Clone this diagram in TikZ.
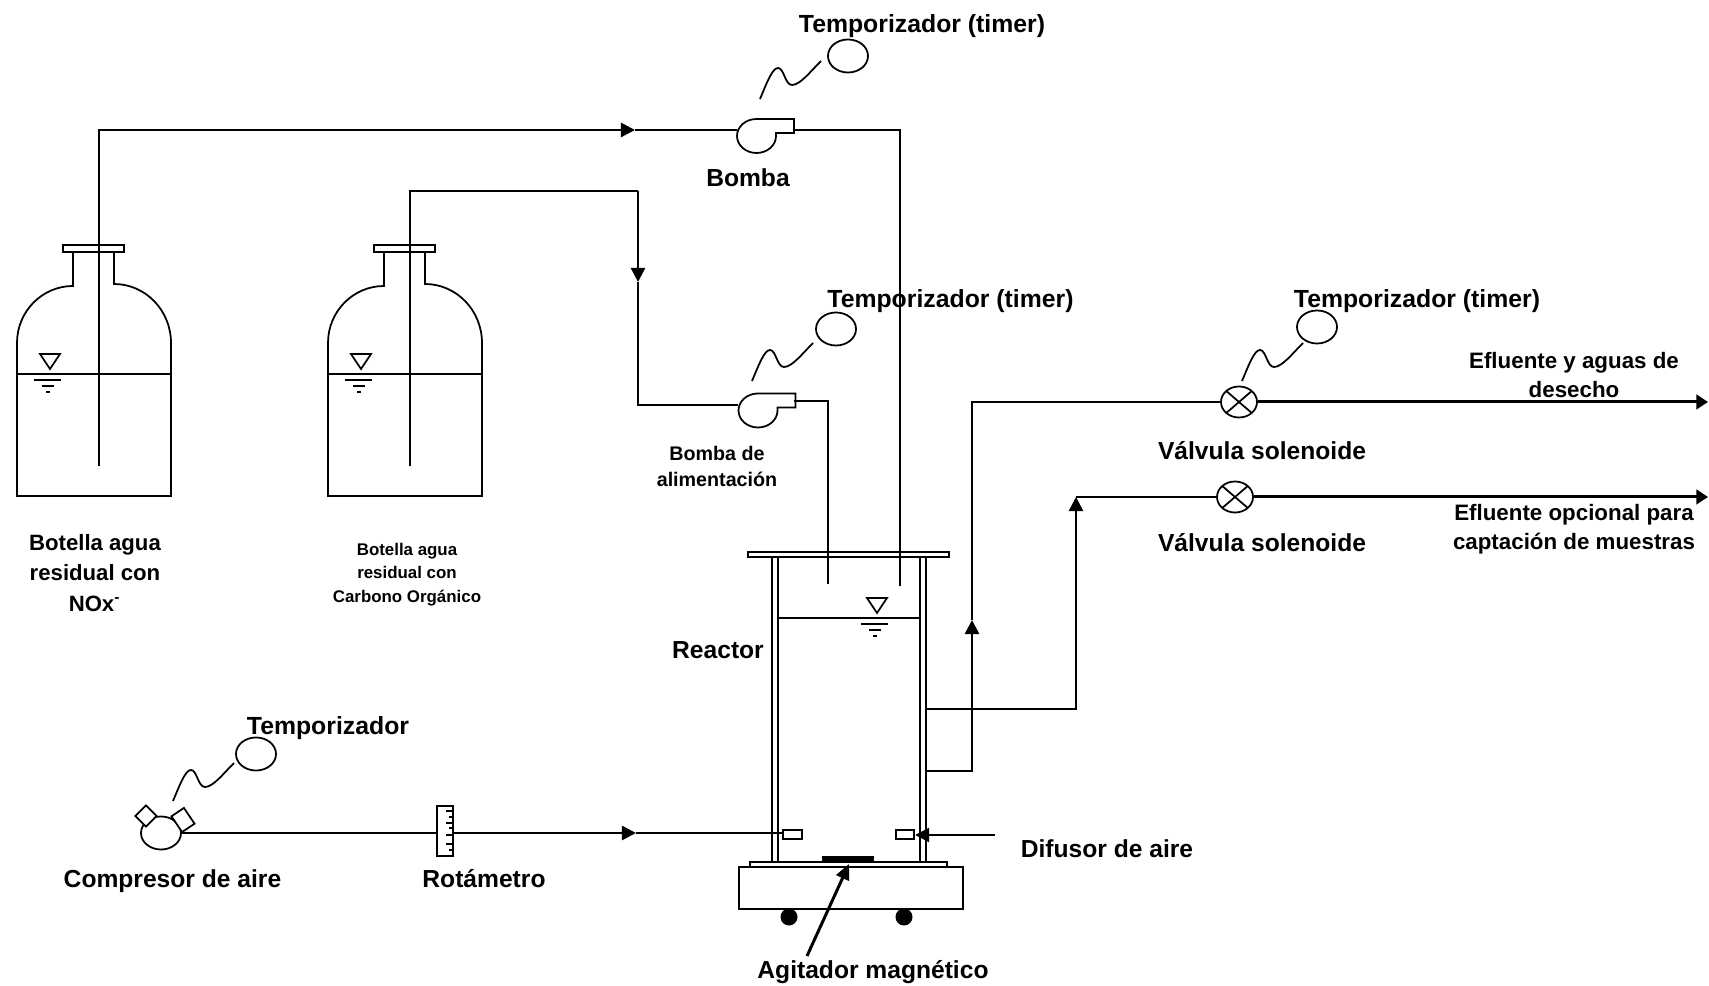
\documentclass[tikz,border=0pt]{standalone}
\usepackage{fontspec}
\usepackage{tikz}
\setmainfont{Liberation Sans}
\usetikzlibrary{shapes.geometric, arrows.meta}

\begin{document}
\begin{tikzpicture}[
  x=0.01cm, y=-0.01cm,
  thickline/.style={line width=0.5pt, black},
  pipe/.style={line width=0.5pt, black},
  flow/.style={line width=0.72pt, black, -{Triangle[length=4pt, width=4pt]}},
  outflow/.style={line width=0.85pt, black, -{Triangle[length=3.3pt, width=4.1pt]}},
  bigtxt/.style={font=\fontsize{7}{8}\selectfont\bfseries, align=center, inner sep=0pt},
  timertxt/.style={font=\fontsize{7.05}{8}\selectfont\bfseries, align=center, inner sep=0pt},
  midtxt/.style={font=\fontsize{6.35}{8.2}\selectfont\bfseries, align=center, inner sep=0pt},
  smalltxt/.style={font=\fontsize{5.6}{7.5}\selectfont\bfseries, align=center, inner sep=0pt},
  tinytxt/.style={font=\fontsize{4.8}{6.6}\selectfont\bfseries, align=center, inner sep=0pt},
  timerbox/.style={ellipse, draw, thickline, fill=white, inner sep=0pt, minimum width=0.40cm, minimum height=0.33cm},
  valvebox/.style={ellipse, draw, thickline, fill=white, inner sep=0pt, minimum width=0.36cm, minimum height=0.31cm,
    path picture={\draw[thickline] (path picture bounding box.north west) -- (path picture bounding box.south east)
      (path picture bounding box.north east) -- (path picture bounding box.south west);}},
  diffbox/.style={rectangle, draw, thickline, fill=white, inner sep=0pt, minimum width=0.185cm, minimum height=0.09cm},
  wheelbox/.style={circle, fill=black, inner sep=0pt, minimum size=0.17cm},
  bottle/.pic={
    \draw[thickline] (56,-244) -- (56,-210) arc[start angle=270, end angle=180, x radius=56, y radius=57]
      -- (0,0) -- (154,0) -- (154,-153) arc[start angle=360, end angle=270, x radius=57, y radius=59] -- (97,-244);
    \draw[thickline] (46,-251) rectangle (107,-244);
    \draw[thickline] (0,-122) -- (154,-122);
  },
  levelmark/.pic={
    \draw[thickline] (-10,-15) -- (10,-15) -- (0,0) -- cycle;
    \draw[thickline] (-16,11) -- (11,11) (-8,17) -- (4,17) (-4,23) -- (0,23);
  },
  pump/.pic={
    \draw[thickline] (19.5,0) arc[start angle=0, end angle=270, x radius=19.5, y radius=17]
      -- (37.5,-17) -- (37.5,-3) -- (19.5,-3) -- cycle;
  },
  timerwire/.pic={
    \draw[thickline] (0,0) .. controls (6,-14) and (12,-31) .. (18,-31)
      .. controls (24,-31) and (25,-14) .. (32,-14) .. controls (40,-14) and (50,-27) .. (61,-38);
  }
]
\useasboundingbox (0,0) rectangle (1709,986);

% Bottles
\pic at (17,496) {bottle};
\pic at (328,496) {bottle};
\pic at (50,369) {levelmark};
\pic at (361,369) {levelmark};
\coordinate (tubeA) at (99,466);
\coordinate (tubeB) at (410,466);

% Pumps
\pic at (756.5,136) {pump};
\pic at (758,410.5) {pump};
\coordinate (pumpAin) at (737,130);
\coordinate (pumpAout) at (794,130);
\coordinate (pumpBin) at (738,405);
\coordinate (pumpBout) at (794,401);

% Timers
\node[timerbox] (timerA) at (848,56) {};
\node[timerbox] (timerB) at (836,329) {};
\node[timerbox] (timerC) at (1317,327) {};
\node[timerbox] (timerD) at (256,754) {};
\pic at (760,99) {timerwire};
\pic at (752,381) {timerwire};
\pic at (1242,381) {timerwire};
\pic at (173,801) {timerwire};

% Reactor
\draw[thickline] (748,552) rectangle (949,557);
\draw[thickline] (772,557) -- (772,862) (778,557) -- (778,862);
\draw[thickline] (920,557) -- (920,862) (926,557) -- (926,862);
\draw[thickline] (778,618) -- (920,618);
\pic at (877,613) {levelmark};
\coordinate (inletA) at (900,586);
\coordinate (inletB) at (828,584);
\coordinate (wallA) at (926,771);
\coordinate (wallB) at (926,709);
\node[diffbox] (diffA) at (792.5,834.5) {};
\node[diffbox] (diffB) at (905,834.5) {};

% Stirrer
\draw[thickline] (750,862) rectangle (947,867);
\draw[thickline] (739,867) rectangle (963,909);
\fill[black] (822,856) rectangle (874,862);
\node[wheelbox] (wheelA) at (789,917) {};
\node[wheelbox] (wheelB) at (904,917) {};
\coordinate (barTip) at (849,864);
\coordinate (barTail) at (807,956);
\coordinate (diffTail) at (995,835);

% Air line
\node[ellipse, draw, thickline, inner sep=0pt, minimum width=0.40cm, minimum height=0.33cm] (compressor) at (161,833) {};
\node[rectangle, draw, thickline, fill=white, inner sep=0pt, minimum width=0.15cm, minimum height=0.15cm, rotate=45] (portA) at (146,816) {};
\node[rectangle, draw, thickline, fill=white, inner sep=0pt, minimum width=0.19cm, minimum height=0.15cm, rotate=-56] (portB) at (183,820) {};
\node[rectangle, draw, thickline, inner sep=0pt, minimum width=0.16cm, minimum height=0.50cm] (rotameter) at (445,831) {};
\foreach \ty/\tl in {811/7, 817/4, 823/7, 828/4, 835/7, 844/7, 850/4} {
  \draw[thickline] (453,\ty) -- ++(-\tl,0);
}
\coordinate (arrowC) at (636,833);
\draw[pipe] (compressor.east) -- (compressor.east -| rotameter.west);
\draw[flow] (compressor.east -| rotameter.east) -- (arrowC);
\draw[pipe] (arrowC) -- (arrowC -| diffA.west);
\draw[flow] (diffTail) -- (diffTail -| diffB.east);
\draw[line width=0.85pt, -{Triangle[length=4.4pt, width=3.9pt]}] (barTail) -- (barTip);

% Valves
\node[valvebox] (valveA) at (1239,402) {};
\node[valvebox] (valveB) at (1235,497) {};
\coordinate (outA) at (1708,402);
\coordinate (outB) at (1708,497);

% Feed lines
\coordinate (arrowA) at (635,130);
\coordinate (cornerB) at (638,191);
\coordinate (arrowB) at (638,282);
\draw[flow] (tubeA) |- (arrowA);
\draw[pipe] (arrowA) -- (pumpAin);
\draw[pipe] (pumpAout) -| (inletA);
\draw[pipe] (tubeB) |- (cornerB);
\draw[flow] (cornerB) -- (arrowB);
\draw[pipe] (arrowB) |- (pumpBin);
\draw[pipe] (pumpBout) -| (inletB);

% Effluent lines
\coordinate (riseA) at (972,620);
\coordinate (riseB) at (1076,497);
\draw[flow] (wallA) -| (riseA);
\draw[pipe] (riseA) |- (valveA.west);
\draw[flow] (wallB) -| (riseB);
\draw[pipe] (riseB) -- (valveB.west);
\draw[outflow] (valveA.east) -- (outA);
\draw[outflow] (valveB.east) -- (outB);

% Labels
\node[timertxt] (txtTimerA) at (922,26) {Temporizador (timer)};
\node[bigtxt] (txtBomba) at (748,178) {Bomba};
\node[timertxt] (txtTimerB) at (950.5,301) {Temporizador (timer)};
\node[timertxt] (txtTimerC) at (1417,301) {Temporizador (timer)};
\node[timertxt] (txtTimerD) at (328,728) {Temporizador};
\node[midtxt] (txtOutA) at (1574,375) {Efluente y aguas de\\desecho};
\node[midtxt] (txtOutB) at (1574,529) {Efluente opcional para\\captación de muestras};
\node[bigtxt] (txtValveA) at (1262,451) {Válvula solenoide};
\node[bigtxt] (txtValveB) at (1262,543) {Válvula solenoide};
\node[smalltxt] (txtFeed) at (717,466.5) {Bomba de\\alimentación};
\node[midtxt, font=\fontsize{6.3}{8.6}\selectfont\bfseries] (txtBottleA) at (95,573) {Botella agua\\residual con\\NOx\textsuperscript{-}};
\node[tinytxt] (txtBottleB) at (407,574.5) {Botella agua\\residual con\\Carbono Orgánico};
\node[bigtxt] (txtReactor) at (718,650) {Reactor};
\node[bigtxt] (txtCompressor) at (172.5,881) {Compresor de aire};
\node[bigtxt] (txtRotameter) at (484,879) {Rotámetro};
\node[bigtxt] (txtDiffuser) at (1107,849) {Difusor de aire};
\node[bigtxt] (txtStirrer) at (873,972) {Agitador magnético};

\end{tikzpicture}
\end{document}
